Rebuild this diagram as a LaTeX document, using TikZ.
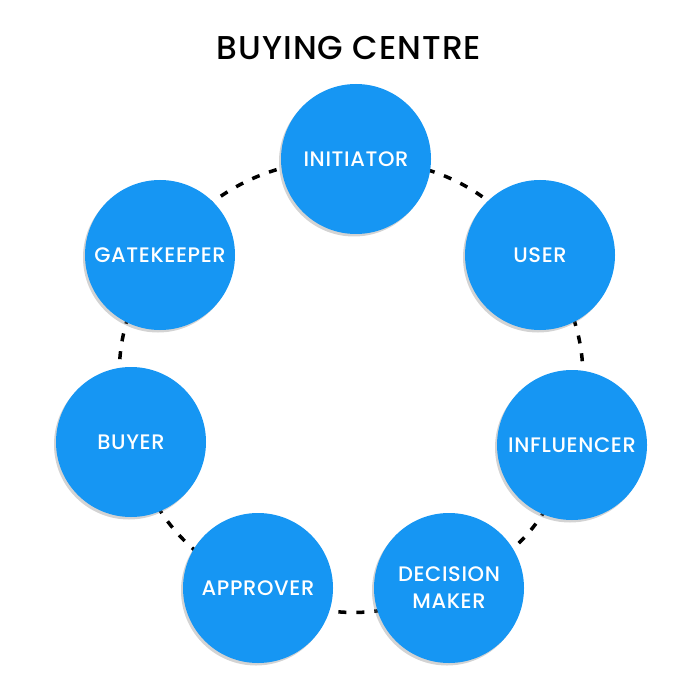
\documentclass[tikz,border=0pt]{standalone}
\usepackage{fontspec}
\setmainfont{Poppins}[UprightFont=* Medium,LetterSpace=3]
\usetikzlibrary{shadows,backgrounds}
\definecolor{roleblue}{RGB}{22,150,243}

\begin{document}
\begin{tikzpicture}[x=1pt,y=-1pt,
role/.style={circle,fill=roleblue,minimum size=150pt,inner sep=0pt,
text=white,font=\fontsize{21}{27}\selectfont,align=center,
drop shadow={shadow xshift=-2pt,shadow yshift=-2.5pt,opacity=.35}},
ring/.style={line width=3.5pt,dash pattern=on 8pt off 10pt}]
\useasboundingbox (0,0) rectangle (700,700);
\node[font=\fontsize{33}{38}\selectfont] (title) at (349,48) {BUYING CENTRE};
\node[role] (init) at (356,159) {INITIATOR};
\node[role] (user) at (540,255) {USER};
\node[role] (infl) at (572,445) {INFLUENCER};
\node[role] (dm) at (449,588) {DECISION\\MAKER};
\node[role] (appr) at (258,588) {APPROVER};
\node[role] (buyer) at (131,442) {BUYER};
\node[role] (gate) at (160,255) {GATEKEEPER};
% dashed ring behind the roles
\begin{pgfonlayer}{background}
\draw[ring] (init.center) to[bend left=26] (user.center)
  to[bend left=26] (infl.center) to[bend left=26] (dm.center)
  to[bend left=26] (appr.center) to[bend left=26] (buyer.center)
  to[bend left=26] (gate.center) to[bend left=26] (init.center);
\end{pgfonlayer}
\end{tikzpicture}
\end{document}
